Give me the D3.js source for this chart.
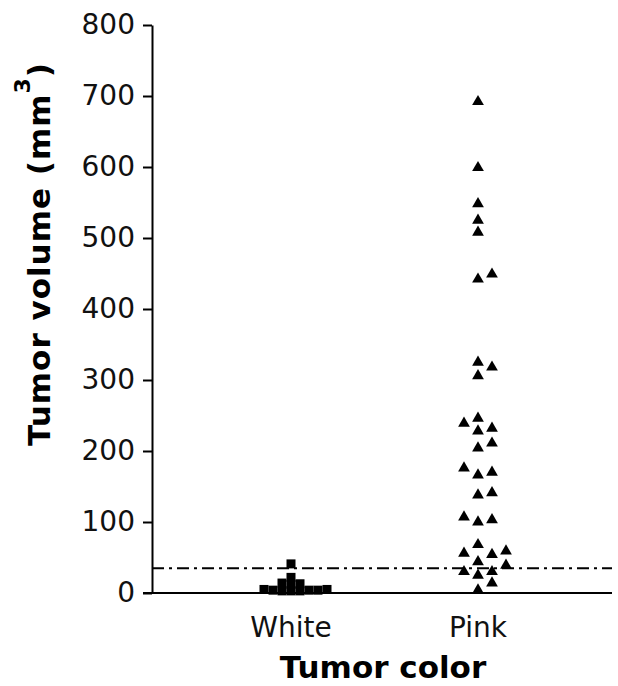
<!DOCTYPE html>
<html>
<head>
<meta charset="utf-8">
<script src="https://cdn.jsdelivr.net/npm/d3@7"></script>
<style>
  body { margin: 0; background: #fff; }
  svg { display: block; }
</style>
</head>
<body>
<svg id="chart" width="618" height="686"></svg>
<script>
// Data
const categories = ['White', 'Pink'];
const whiteValues = [41, 22, 12, 13, 14, 3, 4, 4, 5, 3, 4, 5, 3];
const pinkValues = [692, 599, 548, 525, 508, 449, 442, 325, 318, 306, 246, 239, 232, 228,
  211, 204, 176, 170, 166, 141, 138, 107, 103, 100, 68, 59, 56, 54, 44, 39, 30, 30, 25, 14, 4];
const yTicks = [0, 100, 200, 300, 400, 500, 600, 700, 800];
const cutoff = 35;

const svg = d3.select('#chart');

// Scales
const y = d3.scaleLinear().domain([0, 800]).range([593, 25]);
const x = d3.scalePoint().domain(categories).range([291, 478]);

// Simple beeswarm: nearest free column, in fixed steps
function swarm(values, step, minDy) {
  const placed = [];
  const sorted = values.slice().sort((a, b) => a - b);
  sorted.forEach(v => {
    const py = y(v);
    const order = [0, 1, -1, 2, -2, 3, -3, 4, -4, 5, -5];
    for (const k of order) {
      const hit = placed.some(p => p.k === k && Math.abs(p.py - py) < minDy);
      if (!hit) { placed.push({ v, py, k, dx: k * step }); break; }
    }
  });
  return placed;
}

// Cut-off line (dash-dot)
svg.append('line')
  .attr('x1', 152).attr('x2', 612)
  .attr('y1', y(cutoff)).attr('y2', y(cutoff))
  .attr('stroke', '#000')
  .attr('stroke-width', 2)
  .attr('stroke-dasharray', '12,5,3,5');

// Y axis
const yAxis = svg.append('g')
  .attr('transform', 'translate(152,0)')
  .call(d3.axisLeft(y).tickValues(yTicks).tickSize(9).tickSizeOuter(0).tickPadding(8));
yAxis.select('.domain').attr('stroke-width', 2);
yAxis.selectAll('.tick line').attr('stroke-width', 2);
yAxis.selectAll('.tick text')
  .attr('font-family', 'DejaVu Sans, sans-serif')
  .attr('font-size', 28)
  .attr('fill', '#111');

// X axis line
svg.append('line')
  .attr('x1', 143).attr('x2', 612)
  .attr('y1', y(0)).attr('y2', y(0))
  .attr('stroke', '#000')
  .attr('stroke-width', 2);

// Category labels
svg.selectAll('.cat')
  .data(categories)
  .enter()
  .append('text')
  .attr('class', 'cat')
  .attr('x', d => x(d))
  .attr('y', 637)
  .attr('text-anchor', 'middle')
  .attr('font-family', 'DejaVu Sans, sans-serif')
  .attr('font-size', 28)
  .attr('fill', '#111')
  .text(d => d);

// White: squares
const whitePts = swarm(whiteValues, 9, 6);
svg.selectAll('.wsq')
  .data(whitePts)
  .enter()
  .append('rect')
  .attr('class', 'wsq')
  .attr('x', d => x('White') + d.dx - 4.5)
  .attr('y', d => d.py - 4.5)
  .attr('width', 9)
  .attr('height', 9)
  .attr('fill', '#000');

// Pink: triangles
const pinkPts = swarm(pinkValues, 14, 11);
svg.selectAll('.ptri')
  .data(pinkPts)
  .enter()
  .append('path')
  .attr('class', 'ptri')
  .attr('transform', d => `translate(${x('Pink') + d.dx},${d.py})`)
  .attr('d', d3.symbol().type(d3.symbolTriangle).size(60))
  .attr('fill', '#000');

// Axis titles
svg.append('text')
  .attr('x', 383)
  .attr('y', 678)
  .attr('text-anchor', 'middle')
  .attr('font-family', 'DejaVu Sans, sans-serif')
  .attr('font-weight', 'bold')
  .attr('font-size', 31)
  .text('Tumor color');

const yTitle = svg.append('text')
  .attr('transform', 'translate(50,254) rotate(-90)')
  .attr('text-anchor', 'middle')
  .attr('font-family', 'DejaVu Sans, sans-serif')
  .attr('font-weight', 'bold')
  .attr('font-size', 31)
  .attr('letter-spacing', 1);
yTitle.append('tspan').text('Tumor volume (mm');
yTitle.append('tspan').attr('dy', -20).attr('font-size', 22).text('3');
yTitle.append('tspan').attr('dy', 20).text(')');
</script>
</body>
</html>
